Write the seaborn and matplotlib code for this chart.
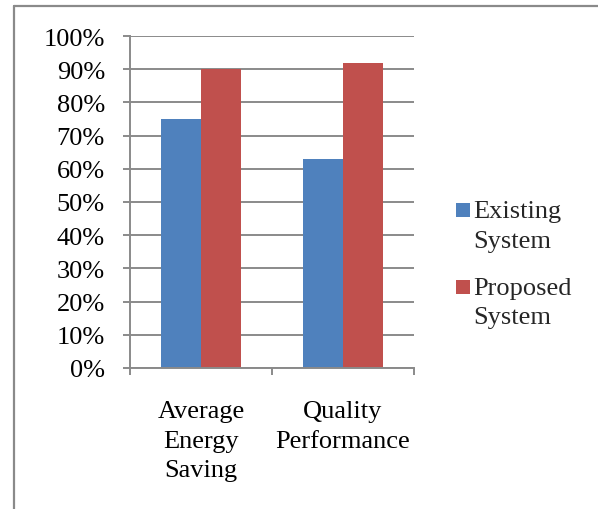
import matplotlib
matplotlib.use("Agg")
import matplotlib.pyplot as plt
import seaborn as sns
import pandas as pd
from matplotlib.patches import Rectangle
from matplotlib.lines import Line2D
from matplotlib.legend_handler import HandlerPatch
from matplotlib.ticker import FixedLocator, PercentFormatter

# Chart data
categories = ["Average\nEnergy\nSaving", "Quality\nPerformance"]
series = ["Existing\nSystem", "Proposed\nSystem"]
existing_values = [0.75, 0.63]
proposed_values = [0.90, 0.92]
colors = ["#4F81BD", "#C0504D"]

df = pd.DataFrame({
    "category": categories * 2,
    "series": [series[0]] * len(categories) + [series[1]] * len(categories),
    "value": existing_values + proposed_values,
})

sns.set_theme(style="white")
plt.rcParams["font.family"] = ["Liberation Serif", "DejaVu Serif"]
FS = 19
LS = 1.45
GRID = "#8A8A8A"

fig = plt.figure(figsize=(5.98, 5.10), dpi=100)
ax = fig.add_axes([130 / 598, 1 - 369 / 510, 284 / 598, 332 / 510])

sns.barplot(data=df, x="category", y="value", hue="series", order=categories,
            hue_order=series, palette=colors, width=0.57, saturation=1,
            linewidth=0, ax=ax, legend=True)

ax.set_xlim(-0.5, 1.5)
ax.set_ylim(0, 1.0)
ax.yaxis.set_major_locator(FixedLocator([i / 10 for i in range(11)]))
ax.yaxis.set_major_formatter(PercentFormatter(1.0, decimals=0))
ax.grid(axis="y", color=GRID, linewidth=1.4)
ax.set_axisbelow(True)
ax.set_xlabel("")
ax.set_ylabel("")

for side in ["top", "right"]:
    ax.spines[side].set_visible(False)
for side in ["left", "bottom"]:
    ax.spines[side].set_color(GRID)
    ax.spines[side].set_linewidth(1.4)

ax.tick_params(axis="y", which="major", length=5, width=1.4, color=GRID,
               labelsize=FS, pad=13, left=True, labelcolor="black")
# category boundaries carry the tick marks, category centres carry the labels
ax.set_xticks([-0.5, 0.5, 1.5], minor=True)
ax.tick_params(axis="x", which="minor", length=5, width=1.4, color=GRID, bottom=True)
ax.tick_params(axis="x", which="major", length=0, pad=23, labelsize=FS, labelcolor="black")
for lbl in ax.get_xticklabels():
    lbl.set_verticalalignment("top")
    lbl.set_multialignment("center")
    lbl.set_linespacing(LS)


class TopSquare(HandlerPatch):
    """Square legend key aligned with the first line of a two-line label."""
    def create_artists(self, legend, orig_handle, xdescent, ydescent,
                       width, height, fontsize, trans):
        s = 0.54 * fontsize
        y0 = -ydescent + 0.64 * fontsize
        p = Rectangle((-xdescent, y0), s, s,
                      facecolor=orig_handle.get_facecolor(),
                      edgecolor="none", transform=trans)
        return [p]


handles, labels = ax.get_legend_handles_labels()
ax.legend(handles, labels, loc="upper left",
          bbox_to_anchor=(456 / 598, 1 - 201 / 510), bbox_transform=fig.transFigure,
          frameon=False, fontsize=FS, borderpad=0, borderaxespad=0,
          handlelength=0.54, handleheight=0.7, handletextpad=0.13,
          labelspacing=0.95, handler_map={Rectangle: TopSquare()})
for t in ax.get_legend().get_texts():
    t.set_linespacing(LS)

# outer frame (top and left edges)
fig.add_artist(Line2D([14 / 598, 1.0], [1 - 7 / 510, 1 - 7 / 510],
                      transform=fig.transFigure, color=GRID, linewidth=1.6))
fig.add_artist(Line2D([14 / 598, 14 / 598], [0.0, 1 - 7 / 510],
                      transform=fig.transFigure, color=GRID, linewidth=1.6))

fig.savefig("out.png", dpi=100, facecolor="white")
